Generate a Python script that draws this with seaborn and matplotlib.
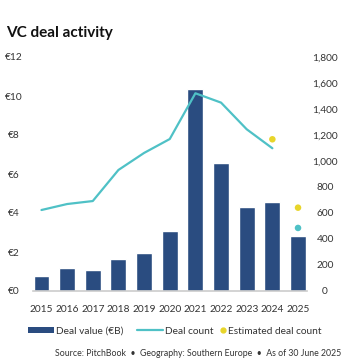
import numpy as np
import pandas as pd
import matplotlib
matplotlib.use("Agg")
import matplotlib.pyplot as plt
import seaborn as sns
from matplotlib.patches import Patch
from matplotlib.lines import Line2D

years = [2015, 2016, 2017, 2018, 2019, 2020, 2021, 2022, 2023, 2024, 2025]
deal_value = [0.77, 1.16, 1.08, 1.64, 1.93, 3.08, 10.34, 6.55, 4.29, 4.58, 2.84]
deal_count = [623, 669, 692, 931, 1062, 1169, 1521, 1449, 1244, 1098, 485]
est_years = [2024, 2025]
est_count = [1167, 641]

left_ticks = [0, 2, 4, 6, 8, 10, 12]
left_labels = ["€0", "€2", "€4", "€6", "€8", "€10", "€12"]
right_ticks = [0, 200, 400, 600, 800, 1000, 1200, 1400, 1600, 1800]
right_labels = ["0", "200", "400", "600", "800", "1,000", "1,200", "1,400", "1,600", "1,800"]

NAVY = "#2A4C80"
TEAL = "#4FC1C6"
YELLOW = "#E8D52A"
TXT = "#333333"

sns.set_theme(style="white")
plt.rcParams["font.family"] = ["Lato", "DejaVu Sans"]

df = pd.DataFrame({"year": years, "value": deal_value, "count": deal_count})

fig = plt.figure(figsize=(3.64, 3.62), dpi=100)
ax = fig.add_axes([33/364, 1-291/362, (307-33)/364, (291-57)/362])
ax2 = ax.twinx()

sns.barplot(data=df, x="year", y="value", native_scale=True, color=NAVY,
            width=0.62, saturation=1, ax=ax, zorder=2)
line_df = df.iloc[:-1]
sns.lineplot(data=line_df, x="year", y="count", color=TEAL, linewidth=1.6, ax=ax2)
sns.scatterplot(x=[years[-1]], y=[deal_count[-1]], color=TEAL, s=22, edgecolor="none", ax=ax2)
sns.scatterplot(x=est_years, y=est_count, color=YELLOW, s=22, edgecolor="none", ax=ax2)

ax.set_xlim(2015 - 0.33, 2025 + 0.35)
ax.set_ylim(0, 12)
ax2.set_ylim(0, 1800)
ax.set_xticks(years)
ax.set_xticklabels([str(y) for y in years])
ax.set_yticks(left_ticks)
ax.set_yticklabels(left_labels)
ax2.set_yticks(right_ticks)
ax2.set_yticklabels(right_labels)

for a in (ax, ax2):
    a.set_xlabel("")
    a.set_ylabel("")
    for s in a.spines.values():
        s.set_visible(False)
    a.grid(False)
ax.spines["bottom"].set_visible(True)
ax.spines["bottom"].set_color("#CCCCCC")
ax.spines["bottom"].set_linewidth(1.2)

ax.tick_params(axis="x", length=0, pad=10, labelsize=7.3, labelcolor=TXT)
ax.tick_params(axis="y", length=0, pad=14, labelsize=7.3, labelcolor=TXT)
ax2.tick_params(axis="y", length=0, pad=13, labelsize=7.3, labelcolor=TXT)
for t in ax.get_yticklabels():
    t.set_ha("center")
for t in ax2.get_yticklabels():
    t.set_ha("center")

fig.text(6/364, 1-26/362, "VC deal activity", fontsize=11, fontweight="bold",
         color="#111111", ha="left", va="top")

leg_y = 1 - 331/362
h1 = [Patch(facecolor=NAVY, edgecolor="none"),
      Line2D([0], [0], color=TEAL, linewidth=1.6)]
leg1 = fig.legend(h1, ["Deal value (€B)", "Deal count"], loc="center left",
                  bbox_to_anchor=(28/364, leg_y), ncol=2, frameon=False, fontsize=7.3,
                  handlelength=2.6, handleheight=0.45, handletextpad=0.2,
                  columnspacing=1.3, labelcolor=TXT, borderpad=0, borderaxespad=0)
h2 = [Line2D([0], [0], color=YELLOW, marker="o", linestyle="none", markersize=3.5)]
leg2 = fig.legend(h2, ["Estimated deal count"], loc="center left",
                  bbox_to_anchor=(220/364, leg_y), frameon=False, fontsize=7.3,
                  handlelength=0.6, handletextpad=0.2, labelcolor=TXT,
                  borderpad=0, borderaxespad=0)

fig.text(198/364, 1-354/362,
         "Source: PitchBook  •  Geography: Southern Europe  •  As of 30 June 2025",
         fontsize=6.3, color=TXT, ha="center", va="center")

fig.savefig("out.png", dpi=100)
